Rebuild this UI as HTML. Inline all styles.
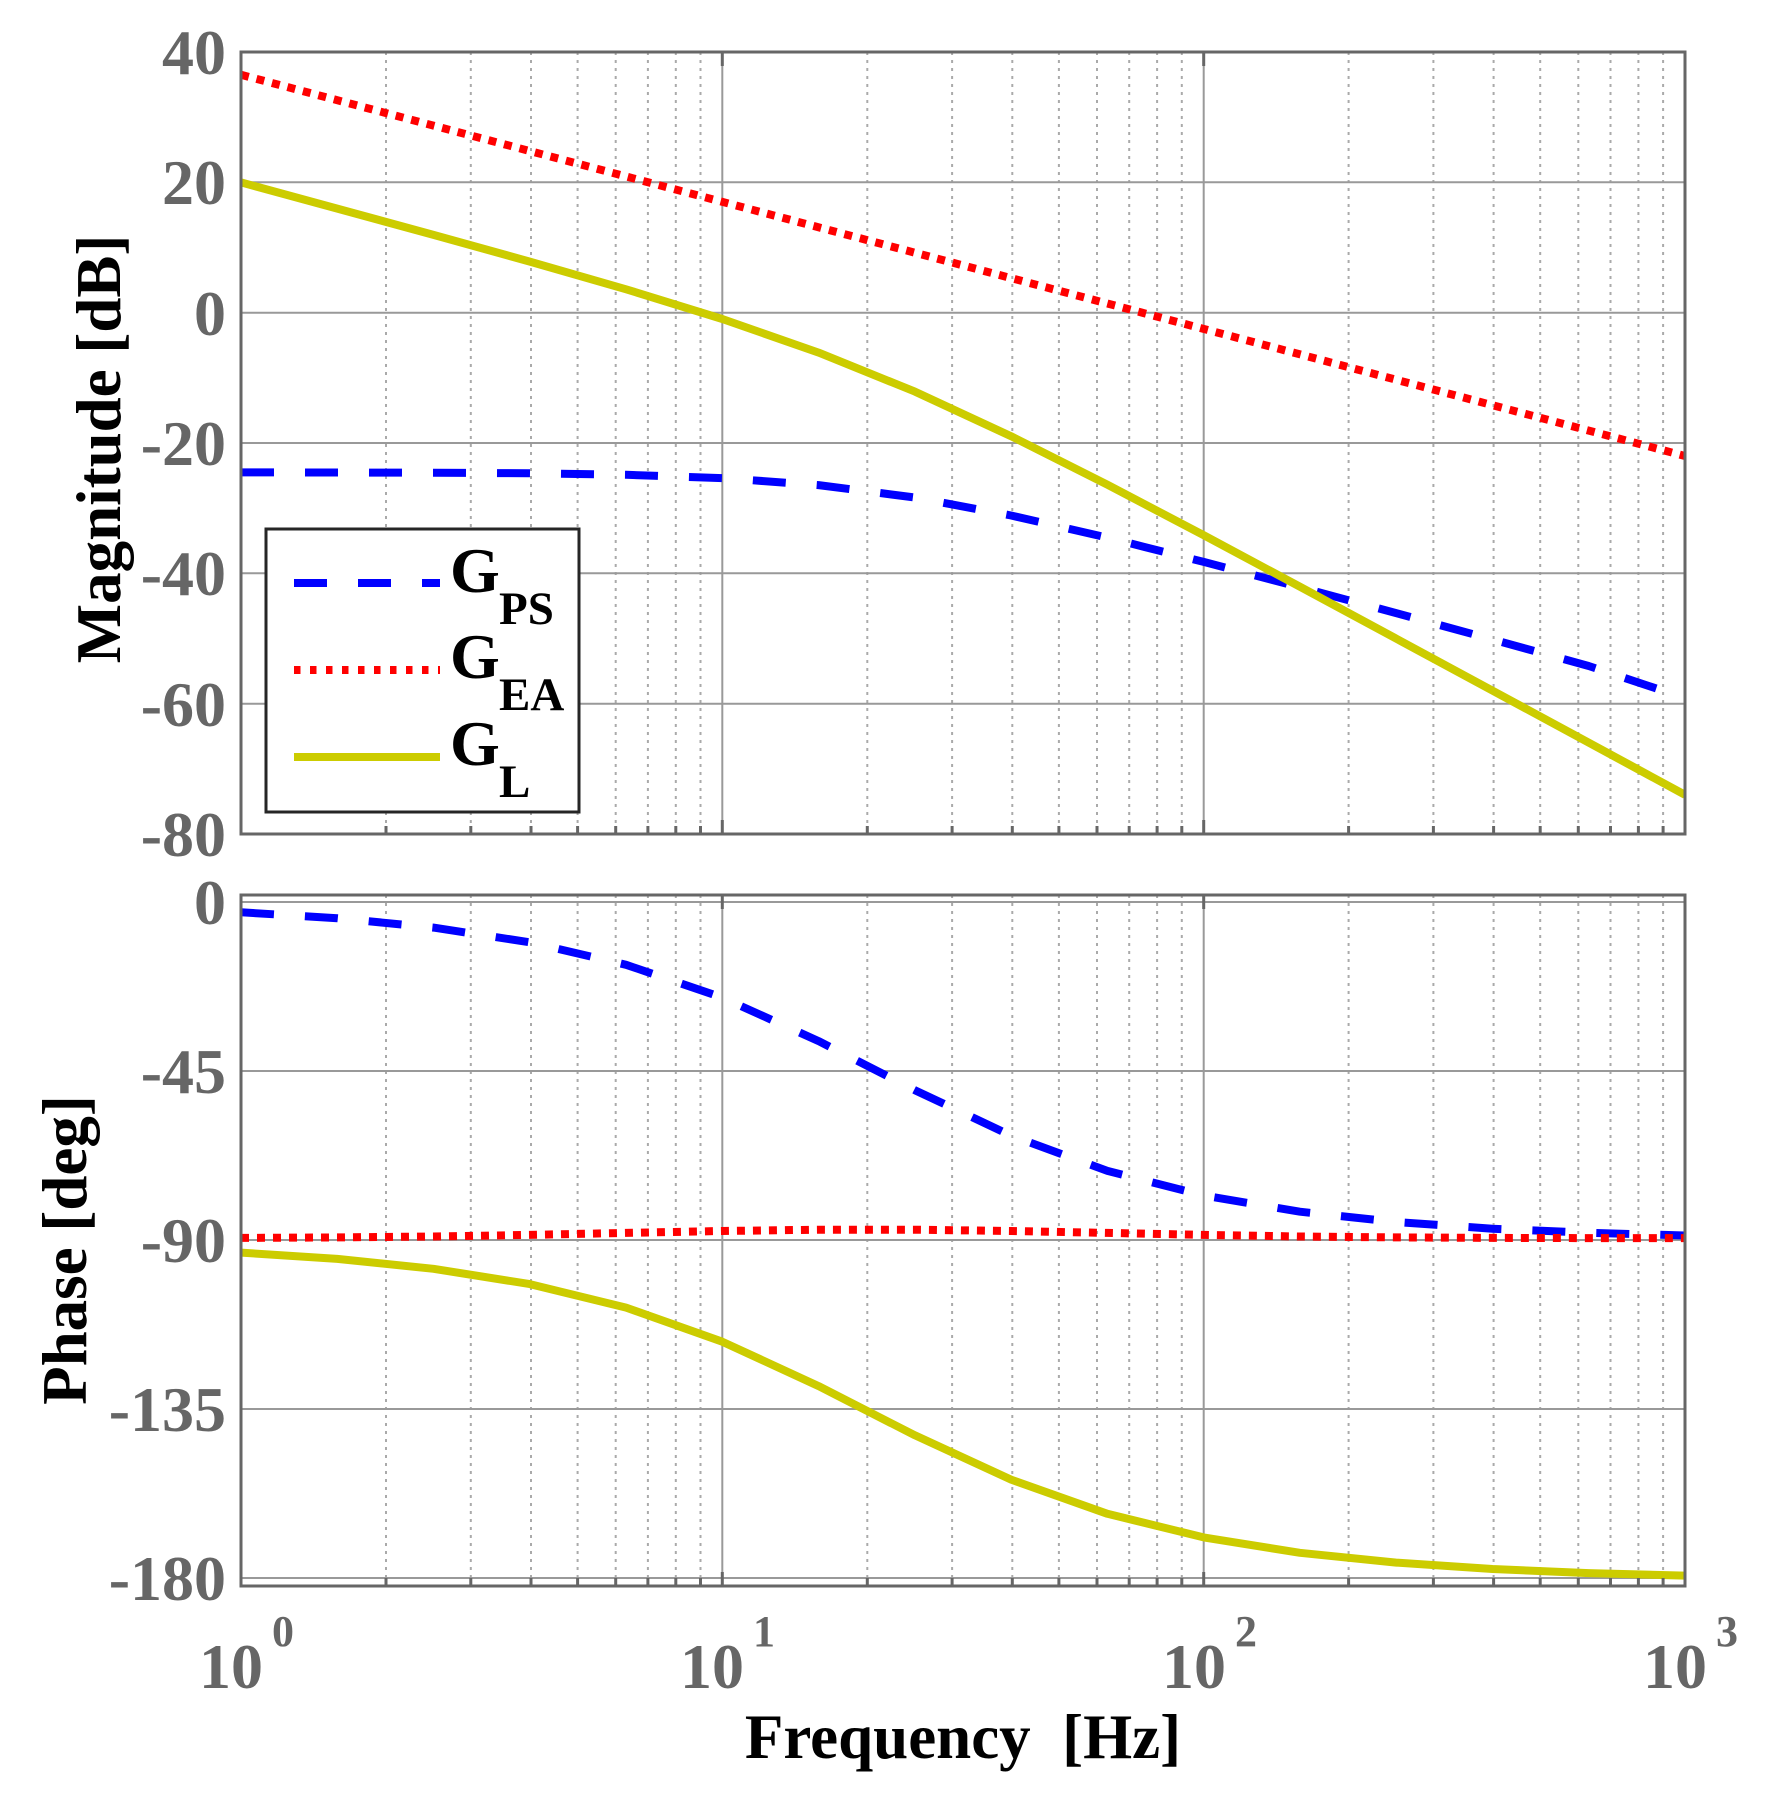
<!DOCTYPE html>
<html><head><meta charset="utf-8"><style>
html,body{margin:0;padding:0;background:#fff;}
svg{display:block;}
text{font-family:"Liberation Serif",serif;font-weight:bold;}
.tk{fill:#666;font-size:64px;}
.sp{fill:#666;font-size:44px;}
.lb{fill:#000;font-size:63px;}
.mn{stroke:#aaa;stroke-width:2;stroke-dasharray:3 5;}
.mj{stroke:#999;stroke-width:2;}
.tc{stroke:#666;stroke-width:3;}
</style></head><body>
<svg width="1765" height="1807" xmlns="http://www.w3.org/2000/svg">
<defs>
<clipPath id="c1"><rect x="241" y="52" width="1444" height="782"/></clipPath>
<clipPath id="c2"><rect x="241" y="895" width="1444" height="691"/></clipPath>
</defs>

<g>
<path class="mn" d="M386 52V834M470.8 52V834M531 52V834M577.6 52V834M615.7 52V834M647.9 52V834M675.8 52V834M700.5 52V834
M867.3 52V834M952.1 52V834M1012.3 52V834M1058.9 52V834M1097 52V834M1129.2 52V834M1157.1 52V834M1181.8 52V834
M1348.6 52V834M1433.4 52V834M1493.6 52V834M1540.2 52V834M1578.3 52V834M1610.5 52V834M1638.4 52V834M1663.1 52V834"/>
<path class="mj" d="M722.3 52V834M1203.7 52V834M241 182.3H1685M241 312.7H1685M241 443H1685M241 573.3H1685M241 703.7H1685"/>
</g>
<g>
<path class="mn" d="M386 895V1586M470.8 895V1586M531 895V1586M577.6 895V1586M615.7 895V1586M647.9 895V1586M675.8 895V1586M700.5 895V1586
M867.3 895V1586M952.1 895V1586M1012.3 895V1586M1058.9 895V1586M1097 895V1586M1129.2 895V1586M1157.1 895V1586M1181.8 895V1586
M1348.6 895V1586M1433.4 895V1586M1493.6 895V1586M1540.2 895V1586M1578.3 895V1586M1610.5 895V1586M1638.4 895V1586M1663.1 895V1586"/>
<path class="mj" d="M722.3 895V1586M1203.7 895V1586M241 902H1685M241 1071H1685M241 1240H1685M241 1409H1685M241 1578H1685"/>
</g>

<g clip-path="url(#c1)" fill="none" stroke-width="8" stroke-linejoin="round">
<polyline stroke="#0000ff" stroke-dasharray="33 31" points="241,472.4 337.3,472.5 433.5,472.7 529.8,473.3 626.1,474.8 722.3,478.1 818.6,485.1 914.9,497.5 1011.1,515.5 1107.4,537.6 1203.7,561.9 1299.9,587.2 1396.2,613.1 1492.5,639.5 1588.7,666 1685,698"/>
<line stroke="#ff0000" stroke-dasharray="8 8" x1="241" y1="74.8" x2="1685" y2="456"/>
<polyline stroke="#cccc00" points="241,182.4 337.3,208.6 433.5,234.9 529.8,261.6 626.1,289.3 722.3,319 818.6,352.6 914.9,391.6 1011.1,436.2 1107.4,484.7 1203.7,535.2 1299.9,586.7 1396.2,638.6 1492.5,690.6 1588.7,742.6 1685,794.8"/>
</g>
<g clip-path="url(#c2)" fill="none" stroke-width="8" stroke-linejoin="round">
<polyline stroke="#0000ff" stroke-dasharray="33 31" points="241,912.3 337.3,918.2 433.5,927.6 529.8,942.3 626.1,964.8 722.3,997.6 818.6,1041.1 914.9,1090.2 1011.1,1135.6 1107.4,1170.9 1203.7,1195.5 1299.9,1211.7 1396.2,1222 1492.5,1228.7 1588.7,1232.8 1685,1235.5"/>
<polyline stroke="#ff0000" stroke-dasharray="8 8" points="241,1237.9 337.3,1237.4 433.5,1236.5 529.8,1234.9 626.1,1232.9 722.3,1231 818.6,1229.7 914.9,1229.7 1011.1,1231 1107.4,1232.9 1203.7,1234.9 1299.9,1236.5 1396.2,1237.4 1492.5,1237.9 1588.7,1238.1 1685,1238.1"/>
<polyline stroke="#cccc00" points="241,1252.6 337.3,1258.9 433.5,1268.8 529.8,1284.1 626.1,1307.6 722.3,1341.7 818.6,1386.1 914.9,1435.3 1011.1,1479.6 1107.4,1513.8 1203.7,1537.4 1299.9,1552.8 1396.2,1562.6 1492.5,1569 1588.7,1573.1 1685,1575.6"/>
</g>

<rect x="241" y="52" width="1444" height="782" fill="none" stroke="#666" stroke-width="3"/>
<rect x="241" y="895" width="1444" height="691" fill="none" stroke="#666" stroke-width="3"/>
<path class="tc" d="M722.3 834v-14M1203.7 834v-14M722.3 52v14M1203.7 52v14M722.3 1586v-14M1203.7 1586v-14M722.3 895v14M1203.7 895v14
M386 834v-8M470.8 834v-8M531 834v-8M577.6 834v-8M615.7 834v-8M647.9 834v-8M675.8 834v-8M700.5 834v-8M867.3 834v-8M952.1 834v-8M1012.3 834v-8M1058.9 834v-8M1097 834v-8M1129.2 834v-8M1157.1 834v-8M1181.8 834v-8M1348.6 834v-8M1433.4 834v-8M1493.6 834v-8M1540.2 834v-8M1578.3 834v-8M1610.5 834v-8M1638.4 834v-8M1663.1 834v-8
M386 1586v-8M470.8 1586v-8M531 1586v-8M577.6 1586v-8M615.7 1586v-8M647.9 1586v-8M675.8 1586v-8M700.5 1586v-8M867.3 1586v-8M952.1 1586v-8M1012.3 1586v-8M1058.9 1586v-8M1097 1586v-8M1129.2 1586v-8M1157.1 1586v-8M1181.8 1586v-8M1348.6 1586v-8M1433.4 1586v-8M1493.6 1586v-8M1540.2 1586v-8M1578.3 1586v-8M1610.5 1586v-8M1638.4 1586v-8M1663.1 1586v-8"/>

<g class="tk" text-anchor="end">
<text x="226" y="74">40</text>
<text x="226" y="204">20</text>
<text x="226" y="335">0</text>
<text x="226" y="465">-20</text>
<text x="226" y="595">-40</text>
<text x="226" y="726">-60</text>
<text x="226" y="856">-80</text>
<text x="226" y="924">0</text>
<text x="226" y="1093">-45</text>
<text x="226" y="1262">-90</text>
<text x="226" y="1431">-135</text>
<text x="226" y="1600">-180</text>
</g>
<g class="tk" text-anchor="middle">
<text x="231" y="1688">10</text>
<text x="712" y="1688">10</text>
<text x="1194" y="1688">10</text>
<text x="1675" y="1688">10</text>
</g>
<g class="sp" text-anchor="middle">
<text x="283" y="1646">0</text>
<text x="764" y="1646">1</text>
<text x="1246" y="1646">2</text>
<text x="1727" y="1646">3</text>
</g>

<text class="lb" x="963" y="1758" text-anchor="middle" xml:space="preserve">Frequency  [Hz]</text>
<text class="lb" transform="translate(120,449) rotate(-90)" text-anchor="middle">Magnitude [dB]</text>
<text class="lb" transform="translate(86,1250) rotate(-90)" text-anchor="middle">Phase [deg]</text>

<rect x="266" y="529" width="313" height="283" fill="#fff" stroke="#262626" stroke-width="3"/>
<line x1="294" y1="583" x2="440" y2="583" stroke="#0000ff" stroke-width="8" stroke-dasharray="33 31"/>
<line x1="294" y1="670" x2="440" y2="670" stroke="#ff0000" stroke-width="8" stroke-dasharray="6.5 9.5"/>
<line x1="294" y1="757" x2="440" y2="757" stroke="#cccc00" stroke-width="8"/>
<text x="450" y="592" style="font-size:64px">G</text><text x="499" y="624" style="font-size:47px">PS</text>
<text x="450" y="678" style="font-size:64px">G</text><text x="499" y="710" style="font-size:47px">EA</text>
<text x="450" y="765" style="font-size:64px">G</text><text x="499" y="797" style="font-size:47px">L</text>
</svg>
</body></html>
